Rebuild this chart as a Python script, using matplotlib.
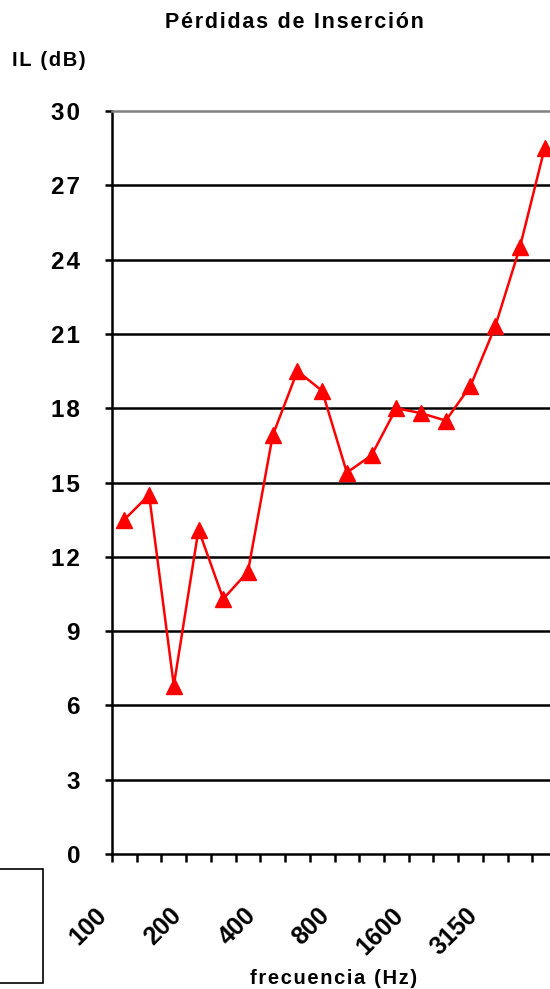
import numpy as np
import matplotlib
matplotlib.use('Agg')
import matplotlib.pyplot as plt
from matplotlib.patches import Rectangle
from matplotlib.transforms import offset_copy

# Data (tercios de octava, IL en dB)
freqs = ['100', '125', '160', '200', '250', '315', '400', '500', '630',
         '800', '1000', '1250', '1600', '2000', '2500', '3150', '4000', '5000']
il_db = [13.5, 14.5, 6.8, 13.1, 10.3, 11.4, 16.9, 19.5, 18.7,
         15.4, 16.1, 18.0, 17.8, 17.5, 18.9, 21.3, 24.5, 28.5]
shown_labels = ['100', '200', '400', '800', '1600', '3150']
y_ticks = [0, 3, 6, 9, 12, 15, 18, 21, 24, 27, 30]

plt.rcParams['font.family'] = ['Liberation Sans', 'DejaVu Sans']
plt.rcParams['font.weight'] = 'bold'

def spaced(s, sep='\u200a'):
    # imitate the letter spacing of the original
    return sep.join(s)

W, H = 550, 989
fig = plt.figure(figsize=(W / 100, H / 100), dpi=100)
ax = fig.add_axes([112 / W, (H - 854) / H, 445 / W, (854 - 111) / H])

x = np.arange(len(freqs))
ax.plot(x, il_db, color='#ff0000', lw=1.8, marker='^', ms=12,
        markerfacecolor='#ff0000', markeredgecolor='#ff0000', zorder=5, clip_on=False)

ax.set_xlim(-0.5, len(freqs) - 0.5)
ax.set_ylim(0, 30)

# horizontal gridlines
for yv in y_ticks[1:-1]:
    ax.axhline(yv, color='black', lw=1.8, zorder=1)

ax.spines['right'].set_visible(False)
ax.spines['top'].set_color('#808080')
ax.spines['top'].set_linewidth(1.8)
ax.spines['left'].set_linewidth(1.8)
ax.spines['bottom'].set_linewidth(1.8)

ax.set_yticks(y_ticks)
ax.set_yticklabels([spaced(str(v)) for v in y_ticks], fontsize=17.5, fontweight='bold')
ax.tick_params(axis='y', direction='out', length=5, width=1.8, pad=18)

ax.set_xticks(np.arange(-0.5, len(freqs), 1.0))
ax.set_xticklabels([])
ax.tick_params(axis='x', direction='out', length=6, width=1.8)

# rotated category labels
trans = offset_copy(ax.get_xaxis_transform(), fig=fig, x=-21, y=-58, units='dots')
for i, f in enumerate(freqs):
    if f in shown_labels:
        ax.text(i, 0, f, transform=trans, rotation=45,
                rotation_mode='anchor', ha='right', va='center',
                fontsize=18, fontweight='bold')

fig.text(294 / W, 1 - 22 / H, spaced('Pérdidas de Inserción'), ha='center', va='center',
         fontsize=15.5, fontweight='bold')
fig.text(12 / W, 1 - 60 / H, spaced('IL (dB)'), ha='left', va='center',
         fontsize=14.5, fontweight='bold')
fig.text(334 / W, 1 - 978 / H, spaced('frecuencia (Hz)'), ha='center', va='center',
         fontsize=14.5, fontweight='bold')

# legend frame (cut off at the left edge)
fig.patches.append(Rectangle((-10 / W, (H - 983) / H), 53 / W, 114 / H,
                             transform=fig.transFigure, fill=False,
                             edgecolor='black', lw=1.2))

fig.savefig('out.png', dpi=100)
